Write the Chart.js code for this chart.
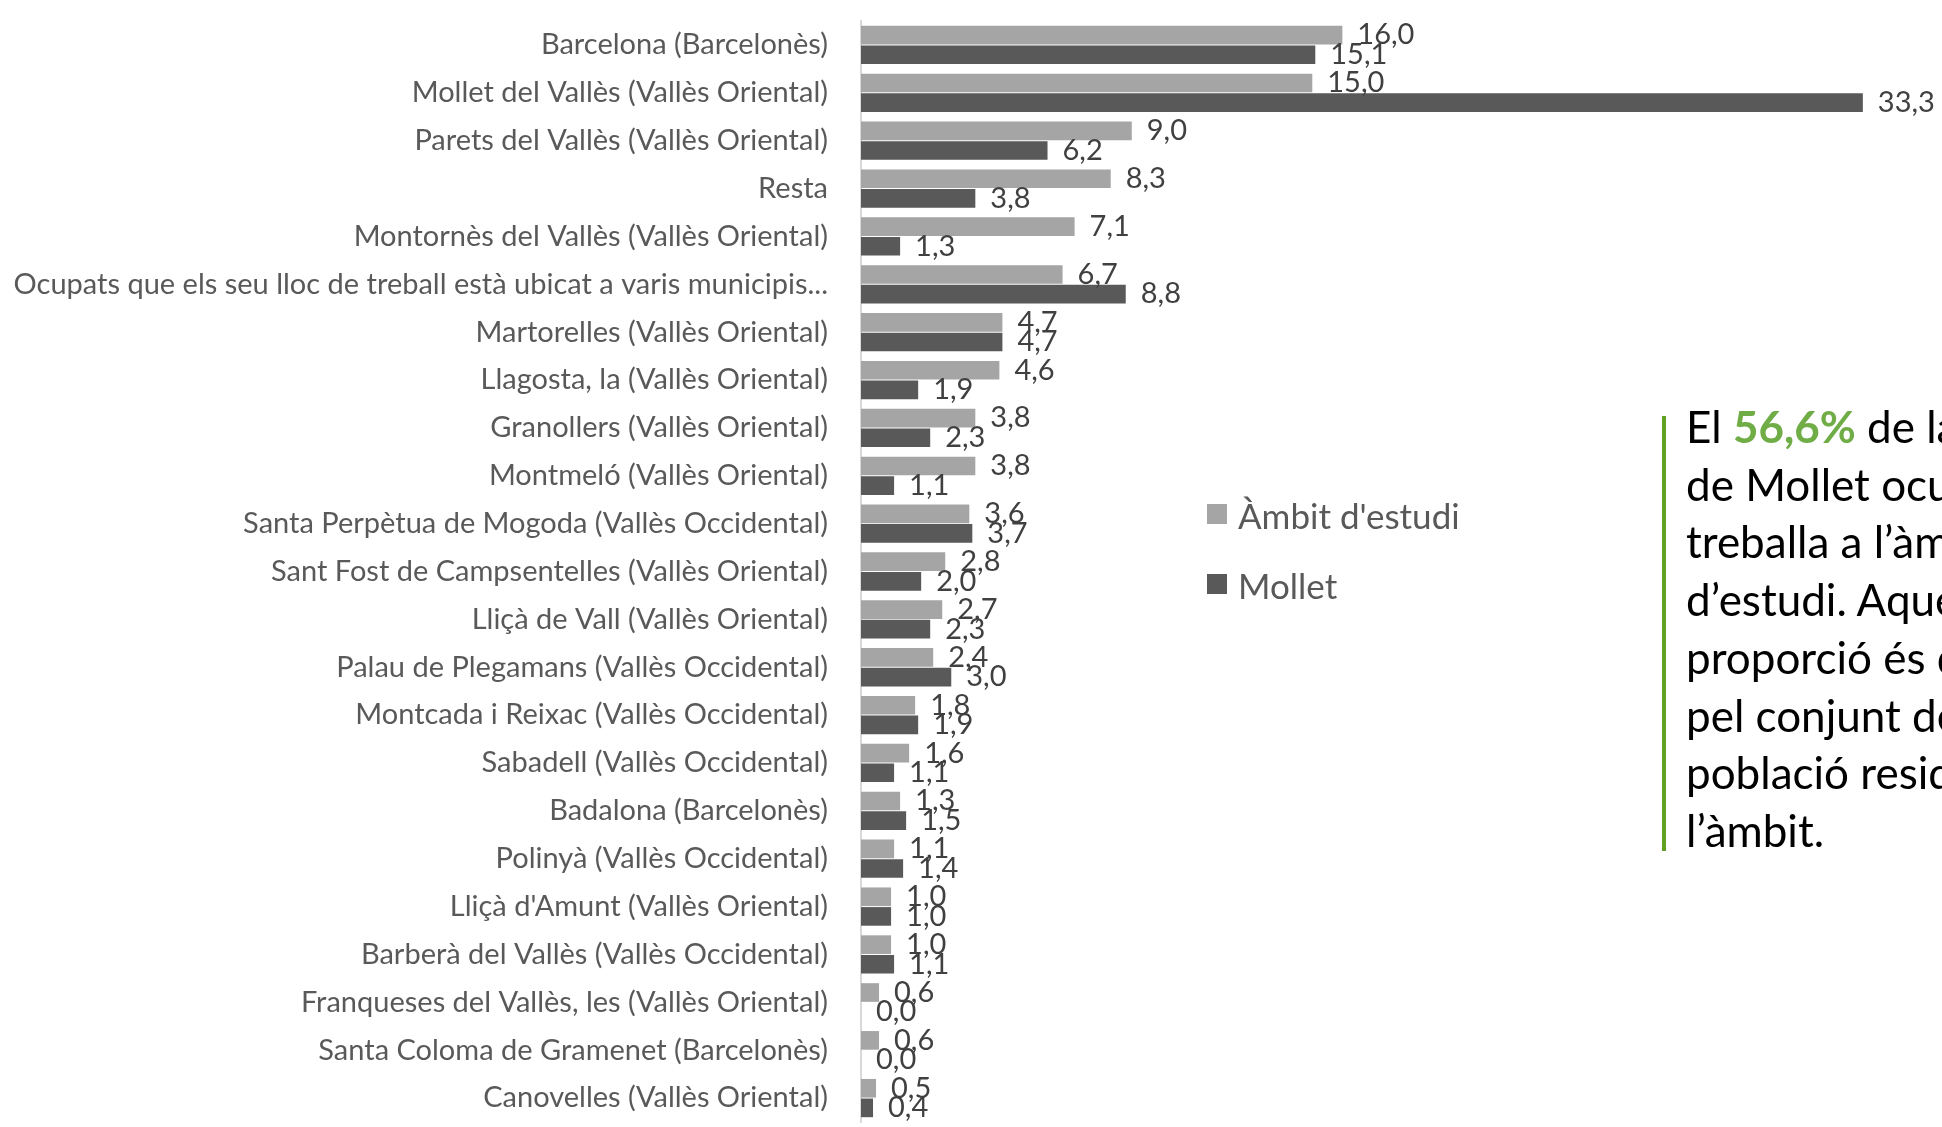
<!DOCTYPE html>
<html lang="ca">
<head>
<meta charset="utf-8">
<title>Lloc de treball dels ocupats</title>
<script src="https://cdn.jsdelivr.net/npm/chart.js@4.4.1/dist/chart.umd.min.js"></script>
<style>
  html, body { margin: 0; padding: 0; background: #fff; }
  body { width: 1942px; height: 1127px; overflow: hidden; position: relative; font-family: Lato, "Open Sans", sans-serif; }
  #wrap { position: absolute; left: 0; top: 0; width: 1942px; height: 1127px; }
  #legend { position: absolute; left: 1207px; top: 0; }
  .leg-item { position: absolute; left: 0; white-space: nowrap; color: #595959; font-size: 35px; line-height: 42px; }
  .leg-box { position: absolute; left: 0; top: 10px; width: 20px; height: 20px; }
  .leg-item span.txt { position: absolute; left: 31px; top: 0; }
  #note-bar { position: absolute; left: 1662px; top: 416px; width: 4px; height: 435px; background: #62a01f; }
  #note { position: absolute; left: 1686px; top: 398px; font-size: 44px; line-height: 57.7px; color: #000; white-space: nowrap; }
  #note b { color: #70ad47; }
</style>
</head>
<body>
<div id="wrap"><canvas id="myChart"></canvas></div>
<div id="legend"></div>
<div id="note-bar"></div>
<div id="note">
  El <b>56,6%</b> de la població<br>
  de Mollet ocupada<br>
  treballa a l’àmbit<br>
  d’estudi. Aquesta<br>
  proporció és de<br>
  pel conjunt de la<br>
  població resident a<br>
  l’àmbit.
</div>
<script>
const ctx = document.getElementById("myChart"),
  legendBox = document.getElementById("legend");

const municipis = [
  "Barcelona (Barcelonès)",
  "Mollet del Vallès (Vallès Oriental)",
  "Parets del Vallès (Vallès Oriental)",
  "Resta",
  "Montornès del Vallès (Vallès Oriental)",
  "Ocupats que els seu lloc de treball està ubicat a varis municipis...",
  "Martorelles (Vallès Oriental)",
  "Llagosta, la (Vallès Oriental)",
  "Granollers (Vallès Oriental)",
  "Montmeló (Vallès Oriental)",
  "Santa Perpètua de Mogoda (Vallès Occidental)",
  "Sant Fost de Campsentelles (Vallès Oriental)",
  "Lliçà de Vall (Vallès Oriental)",
  "Palau de Plegamans (Vallès Occidental)",
  "Montcada i Reixac (Vallès Occidental)",
  "Sabadell (Vallès Occidental)",
  "Badalona (Barcelonès)",
  "Polinyà (Vallès Occidental)",
  "Lliçà d'Amunt (Vallès Oriental)",
  "Barberà del Vallès (Vallès Occidental)",
  "Franqueses del Vallès, les (Vallès Oriental)",
  "Santa Coloma de Gramenet (Barcelonès)",
  "Canovelles (Vallès Oriental)"
];
const ambitValues = [16.0, 15.0, 9.0, 8.3, 7.1, 6.7, 4.7, 4.6, 3.8, 3.8, 3.6, 2.8, 2.7, 2.4, 1.8, 1.6, 1.3, 1.1, 1.0, 1.0, 0.6, 0.6, 0.5];
const molletValues = [15.1, 33.3, 6.2, 3.8, 1.3, 8.8, 4.7, 1.9, 2.3, 1.1, 3.7, 2.0, 2.3, 3.0, 1.9, 1.1, 1.5, 1.4, 1.0, 1.1, 0.0, 0.0, 0.4];
const seriesNames = ["Àmbit d'estudi", "Mollet"];
const seriesColors = ["#a5a5a5", "#595959"];

const fontFamily = 'Lato, "Open Sans", sans-serif';

//. Value labels at the end of each bar (comma decimals)
const valueLabels = {
  id: "valueLabels",
  afterDatasetsDraw(chart) {
    const c = chart.ctx;
    c.save();
    c.font = "29px " + fontFamily;
    c.fillStyle = "#404040";
    c.textAlign = "left";
    c.textBaseline = "middle";
    chart.data.datasets.forEach((ds, i) => {
      chart.getDatasetMeta(i).data.forEach((bar, j) => {
        const txt = ds.data[j].toFixed(1).replace(".", ",");
        c.fillText(txt, bar.x + 15, bar.y);
      });
    });
    c.restore();
  },
};

let myChart = new Chart(ctx, {
  type: "bar",
  data: {
    labels: municipis,
    datasets: [
      {
        label: seriesNames[0],
        data: ambitValues,
        backgroundColor: seriesColors[0],
      },
      {
        label: seriesNames[1],
        data: molletValues,
        backgroundColor: seriesColors[1],
      },
    ],
  },
  options: {
    indexAxis: "y",
    responsive: true,
    maintainAspectRatio: false,
    animation: false,
    barPercentage: 0.95,
    categoryPercentage: 0.82,
    layout: { padding: { left: 0, top: 21, right: 28, bottom: 5 } },
    plugins: {
      legend: { display: false },
      tooltip: { enabled: false },
    },
    scales: {
      x: { display: false, min: 0, max: 35 },
      y: {
        grid: { display: false, drawTicks: false },
        border: { display: true, color: "#d9d9d9", width: 2 },
        ticks: {
          color: "#595959",
          padding: 33,
          autoSkip: false,
          font: { family: fontFamily, size: 29 },
        },
        // keep the plot starting where the reference has it
        afterFit(scale) {
          scale.width = 861;
          scale.paddingTop = 0;
          scale.paddingBottom = 0;
        },
      },
    },
  },
  plugins: [valueLabels],
});

//. Legend built from the datasets
myChart.data.datasets.forEach((ds, i) => {
  const item = document.createElement("div");
  item.className = "leg-item";
  item.style.top = 494 + i * 70 + "px";
  item.innerHTML = '<div class="leg-box" style="background:' + ds.backgroundColor + '"></div><span class="txt">' + ds.label + "</span>";
  legendBox.appendChild(item);
});
</script>
</body>
</html>
